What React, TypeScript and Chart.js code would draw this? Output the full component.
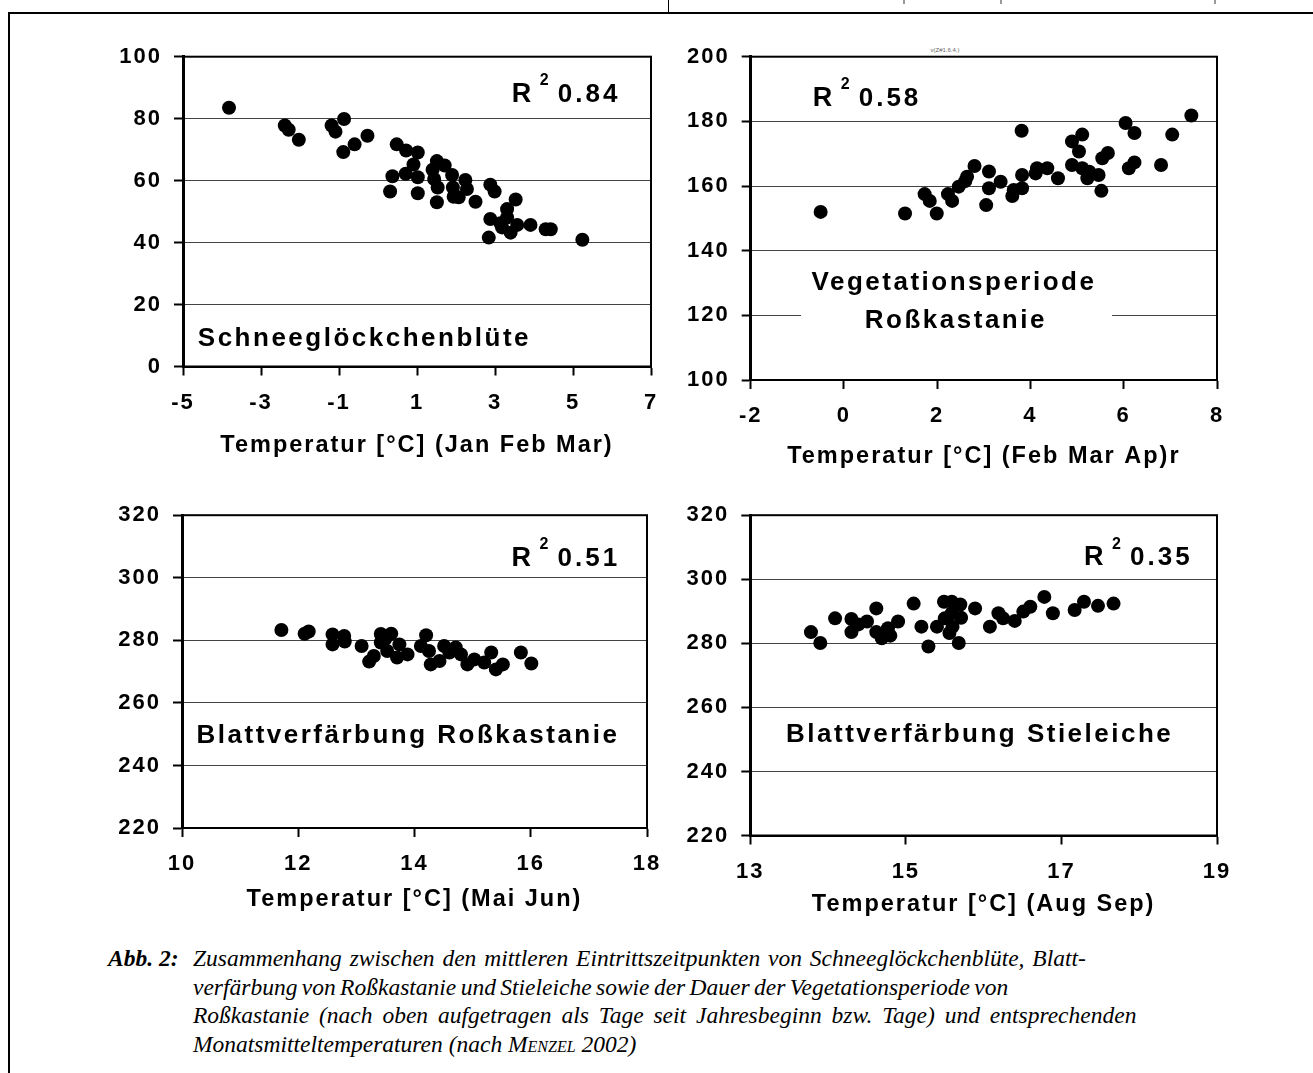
import React, { useEffect, useRef } from "react";
import { Chart, registerables } from "chart.js";

Chart.register(...registerables);

// ---------- Panel 1: Schneeglöckchenblüte ----------
const snowdropTemp = [-3.82, -2.39, -2.29, -2.03, -1.19, -0.87, -1.09, -0.89, -0.6, -0.27, 0.48, 0.72, 1.02, 0.91, 0.37, 0.31, 0.71, 1.02, 1.02, 1.51, 1.71, 1.4, 1.44, 1.53, 1.51, 1.9, 1.92, 1.94, 2.24, 2.28, 2.07, 2.5, 2.88, 2.99, 3.53, 3.31, 2.88, 3.14, 3.31, 3.57, 3.4, 2.84, 3.91, 4.3, 4.43, 5.24, 3.18];
const snowdropDay = [83.5, 77.8, 76.4, 73.2, 77.8, 79.9, 75.8, 69.2, 71.7, 74.5, 71.7, 69.7, 69.1, 65.2, 61.4, 56.5, 62.2, 61.1, 55.9, 66.3, 64.9, 63.5, 60.5, 57.8, 53.0, 61.8, 57.8, 54.8, 60.2, 57.3, 54.6, 53.2, 58.7, 56.5, 53.9, 50.8, 47.6, 46.2, 48.1, 45.7, 43.2, 41.6, 45.7, 44.3, 44.3, 40.9, 44.9];
const snowdropXTicks = [-5, -3, -1, 1, 3, 5, 7];
const snowdropYTicks = [0, 20, 40, 60, 80, 100];

// ---------- Panel 2: Vegetationsperiode Roßkastanie ----------
const vegTemp = [-0.5, 1.31, 1.73, 1.84, 1.99, 2.23, 2.32, 2.46, 2.64, 2.8, 3.05, 3.11, 3.11, 3.36, 3.61, 3.64, 3.82, 3.82, 3.81, 4.11, 4.14, 4.36, 4.59, 4.89, 5.11, 5.04, 4.89, 5.11, 5.22, 5.46, 5.52, 5.54, 5.66, 6.04, 6.23, 6.23, 6.11, 6.8, 7.04, 7.45, 5.26, 2.6];
const vegDays = [152.0, 151.5, 157.5, 155.4, 151.5, 157.5, 155.4, 159.8, 162.9, 166.2, 154.1, 159.3, 164.5, 161.3, 156.9, 158.8, 159.3, 163.4, 177.1, 163.9, 165.5, 165.5, 162.4, 173.8, 175.9, 170.7, 166.5, 165.5, 162.4, 163.4, 158.5, 168.6, 170.2, 179.5, 176.4, 167.3, 165.5, 166.5, 175.9, 181.8, 164.4, 161.5];
const vegXTicks = [-2, 0, 2, 4, 6, 8];
const vegYTicks = [100, 120, 140, 160, 180, 200];

// ---------- Panel 3: Blattverfärbung Roßkastanie ----------
const chestnutTemp = [11.71, 12.11, 12.18, 12.59, 12.59, 12.79, 12.8, 13.09, 13.22, 13.3, 13.42, 13.42, 13.6, 13.53, 13.7, 13.74, 13.88, 14.11, 14.2, 14.28, 14.43, 14.51, 14.6, 14.71, 14.8, 14.91, 15.03, 15.2, 15.32, 15.4, 15.52, 15.83, 16.01, 14.25, 13.5];
const chestnutDay = [283.3, 282.1, 282.8, 281.9, 278.7, 281.4, 279.6, 278.2, 273.2, 275.0, 282.0, 279.3, 282.1, 276.6, 274.5, 278.7, 275.5, 278.2, 281.6, 272.3, 273.4, 278.2, 276.1, 277.7, 275.5, 272.3, 273.9, 272.9, 276.1, 270.7, 272.3, 276.1, 272.6, 276.6, 280.5];
const chestnutXTicks = [10, 12, 14, 16, 18];
const chestnutYTicks = [220, 240, 260, 280, 300, 320];

// ---------- Panel 4: Blattverfärbung Stieleiche ----------
const oakTemp = [13.78, 13.9, 14.09, 14.3, 14.3, 14.39, 14.5, 14.62, 14.62, 14.69, 14.8, 14.9, 14.77, 15.1, 15.2, 15.29, 15.4, 15.49, 15.59, 15.7, 15.5, 15.59, 15.6, 15.71, 15.56, 15.68, 15.89, 16.08, 16.19, 16.25, 16.4, 16.51, 16.6, 16.78, 16.89, 17.17, 17.29, 17.47, 17.67];
const oakDay = [283.5, 280.1, 287.8, 287.6, 283.5, 285.9, 286.8, 290.9, 283.5, 281.6, 282.4, 286.8, 284.7, 292.4, 285.2, 279.0, 285.2, 293.0, 293.0, 292.1, 287.8, 289.4, 285.2, 288.0, 283.2, 280.1, 290.9, 285.2, 289.4, 287.8, 287.0, 289.9, 291.4, 294.5, 289.4, 290.4, 293.0, 291.7, 292.4];
const oakXTicks = [13, 15, 17, 19];
const oakYTicks = [220, 240, 260, 280, 300, 320];

const FONT = '"Liberation Sans", Arial, sans-serif';

type Label = { text: string; x: number; y: number; align: CanvasTextAlign };
type Panel = {
  xs: number[];
  ys: number[];
  xTicks: number[];
  yTicks: number[];
  xTitle: string;
  r2: string;
  r2At: [number, number];
  labels: Label[];
  whiteBox?: [number, number, number, number];
  box: { left: number; top: number; width: number; height: number };
  area: { left: number; top: number; right: number; bottom: number };
};

const panels: Panel[] = [
  {
    xs: snowdropTemp, ys: snowdropDay, xTicks: snowdropXTicks, yTicks: snowdropYTicks,
    xTitle: "Temperatur [°C] (Jan Feb Mar)",
    r2: "0.84", r2At: [3.43, 85.5],
    labels: [{ text: "Schneeglöckchenblüte", x: -4.62, y: 6.6, align: "left" }],
    box: { left: 90, top: 30, width: 590, height: 430 },
    area: { left: 183, top: 56.7, right: 651, bottom: 366.5 },
  },
  {
    xs: vegTemp, ys: vegDays, xTicks: vegXTicks, yTicks: vegYTicks,
    xTitle: "Temperatur [°C] (Feb Mar Ap)r",
    r2: "0.58", r2At: [-0.67, 184.8],
    labels: [
      { text: "Vegetationsperiode", x: 2.36, y: 127.8, align: "center" },
      { text: "Roßkastanie", x: 2.4, y: 116.0, align: "center" },
    ],
    whiteBox: [-0.92, 138.6, 5.75, 110.8],
    box: { left: 665, top: 30, width: 580, height: 441 },
    area: { left: 750.7, top: 56.7, right: 1217, bottom: 380 },
  },
  {
    xs: chestnutTemp, ys: chestnutDay, xTicks: chestnutXTicks, yTicks: chestnutYTicks,
    xTitle: "Temperatur [°C] (Mai Jun)",
    r2: "0.51", r2At: [15.67, 303.8],
    labels: [{ text: "Blattverfärbung Roßkastanie", x: 10.25, y: 247.3, align: "left" }],
    box: { left: 90, top: 490, width: 590, height: 424 },
    area: { left: 182, top: 514, right: 647, bottom: 828 },
  },
  {
    xs: oakTemp, ys: oakDay, xTicks: oakXTicks, yTicks: oakYTicks,
    xTitle: "Temperatur [°C] (Aug Sep)",
    r2: "0.35", r2At: [17.29, 304.3],
    labels: [{ text: "Blattverfärbung Stieleiche", x: 13.46, y: 249.1, align: "left" }],
    box: { left: 665, top: 490, width: 580, height: 429 },
    area: { left: 750.3, top: 512.7, right: 1217, bottom: 835.5 },
  },
];

function PanelChart({ p }: { p: Panel }) {
  const ref = useRef<HTMLCanvasElement | null>(null);
  useEffect(() => {
    if (!ref.current) return;
    const decor = {
      id: "decor",
      beforeDraw(chart: any) {
        chart.ctx.letterSpacing = "2px";
      },
      beforeDatasetsDraw(chart: any) {
        const { ctx, chartArea, scales } = chart;
        ctx.save();
        if (p.whiteBox) {
          const [x0, y0, x1, y1] = p.whiteBox;
          const px0 = scales.x.getPixelForValue(x0);
          const px1 = scales.x.getPixelForValue(x1);
          const py0 = scales.y.getPixelForValue(y0);
          const py1 = scales.y.getPixelForValue(y1);
          ctx.fillStyle = "#fff";
          ctx.fillRect(px0, py0, px1 - px0, py1 - py0);
        }
        ctx.strokeStyle = "#000";
        ctx.lineWidth = 2;
        ctx.strokeRect(chartArea.left, chartArea.top, chartArea.right - chartArea.left, chartArea.bottom - chartArea.top);
        ctx.restore();
      },
      afterDatasetsDraw(chart: any) {
        const { ctx, scales } = chart;
        ctx.save();
        ctx.fillStyle = "#000";
        ctx.textBaseline = "alphabetic";
        ctx.letterSpacing = "2.5px";
        ctx.font = `bold 26px ${FONT}`;
        for (const l of p.labels) {
          ctx.textAlign = l.align;
          ctx.fillText(l.text, scales.x.getPixelForValue(l.x), scales.y.getPixelForValue(l.y));
        }
        const rx = scales.x.getPixelForValue(p.r2At[0]);
        const ry = scales.y.getPixelForValue(p.r2At[1]);
        ctx.textAlign = "left";
        ctx.letterSpacing = "0px";
        ctx.font = `bold 27px ${FONT}`;
        ctx.fillText("R", rx, ry);
        ctx.font = `bold 16px ${FONT}`;
        ctx.fillText("2", rx + 28, ry - 16.5);
        ctx.letterSpacing = "3px";
        ctx.font = `bold 26px ${FONT}`;
        ctx.fillText(p.r2, rx + 46, ry);
        ctx.restore();
      },
    };
    const { box, area } = p;
    const chart = new Chart(ref.current, {
      type: "scatter",
      data: {
        datasets: [
          {
            data: p.xs.map((x, i) => ({ x, y: p.ys[i] })),
            backgroundColor: "#000",
            borderColor: "#000",
            borderWidth: 0,
            pointRadius: 7,
            pointHoverRadius: 7,
          },
        ],
      },
      options: {
        responsive: false,
        animation: false,
        devicePixelRatio: 1,
        events: [],
        layout: {
          padding: {
            left: 0,
            top: area.top - box.top,
            right: box.left + box.width - area.right,
            bottom: 0,
          },
        },
        plugins: { legend: { display: false }, tooltip: { enabled: false } },
        scales: {
          x: {
            type: "linear",
            position: "bottom",
            min: p.xTicks[0],
            max: p.xTicks[p.xTicks.length - 1],
            afterBuildTicks: (s: any) => {
              s.ticks = p.xTicks.map((v) => ({ value: v }));
            },
            afterFit: (s: any) => {
              s.height = box.top + box.height - area.bottom;
            },
            grid: { display: true, drawOnChartArea: false, drawTicks: true, tickLength: 9, tickColor: "#000", tickWidth: 2 },
            border: { display: true, color: "#000", width: 2 },
            ticks: {
              color: "#000",
              font: { family: FONT, size: 22, weight: "bold" },
              padding: 14,
              maxRotation: 0,
              autoSkip: false,
              callback: (v: any) => String(v),
            },
            title: {
              display: true,
              text: p.xTitle,
              color: "#000",
              font: { family: FONT, size: 23.5, weight: "bold" },
              padding: { top: 0, bottom: 0 },
            },
          },
          y: {
            type: "linear",
            min: p.yTicks[0],
            max: p.yTicks[p.yTicks.length - 1],
            afterBuildTicks: (s: any) => {
              s.ticks = p.yTicks.map((v) => ({ value: v }));
            },
            afterFit: (s: any) => {
              s.width = area.left - box.left;
            },
            grid: { display: true, color: "#444", lineWidth: 1, drawTicks: true, tickLength: 9, tickColor: "#000", tickWidth: 2 },
            border: { display: true, color: "#000", width: 3 },
            ticks: {
              color: "#000",
              font: { family: FONT, size: 22, weight: "bold" },
              padding: 12,
              autoSkip: false,
              callback: (v: any) => String(v),
            },
          },
        },
      },
      plugins: [decor],
    } as any);
    return () => chart.destroy();
  }, [p]);
  return (
    <canvas
      ref={ref}
      width={p.box.width}
      height={p.box.height}
      style={{ position: "absolute", left: p.box.left, top: p.box.top, width: p.box.width, height: p.box.height }}
    />
  );
}

const captionStyle: React.CSSProperties = {
  position: "absolute",
  top: 944,
  fontFamily: '"Liberation Serif", "Times New Roman", serif',
  fontStyle: "italic",
  fontSize: 23.5,
  lineHeight: "28.5px",
  whiteSpace: "nowrap",
  color: "#000",
};

export default function App() {
  return (
    <div style={{ position: "absolute", left: 0, top: 0, width: 1313, height: 1073, overflow: "hidden", background: "#fff" }}>
      {/* outer frame */}
      <div style={{ position: "absolute", left: 9, top: 12, width: 1304, height: 2, background: "#000" }} />
      <div style={{ position: "absolute", left: 8, top: 12, width: 2, height: 1061, background: "#000" }} />
      <div style={{ position: "absolute", left: 668, top: 0, width: 1, height: 13, background: "#000" }} />
      <div style={{ position: "absolute", left: 903, top: 0, width: 2, height: 4, background: "#999" }} />
      <div style={{ position: "absolute", left: 1000, top: 0, width: 2, height: 4, background: "#999" }} />
      <div style={{ position: "absolute", left: 1214, top: 0, width: 2, height: 4, background: "#999" }} />
      <div style={{ position: "absolute", left: 925, top: 47, width: 40, textAlign: "center", fontFamily: FONT, fontSize: 6, color: "#666", lineHeight: "7px" }}>v(Z#1.6.4.)</div>
      {panels.map((p, i) => (
        <PanelChart key={i} p={p} />
      ))}
      <div style={{ ...captionStyle, left: 108, fontWeight: "bold" }}>Abb. 2:</div>
      <div style={{ ...captionStyle, left: 193 }}>
        <div style={{ wordSpacing: "2px" }}>Zusammenhang zwischen den mittleren Eintrittszeitpunkten von Schneeglöckchenblüte, Blatt-</div>
        <div style={{ wordSpacing: "-1.5px" }}>verfärbung von Roßkastanie und Stieleiche sowie der Dauer der Vegetationsperiode von</div>
        <div style={{ wordSpacing: "4px" }}>Roßkastanie (nach oben aufgetragen als Tage seit Jahresbeginn bzw. Tage) und entsprechenden</div>
        <div>
          Monatsmitteltemperaturen (nach <span style={{ fontVariant: "small-caps" }}>Menzel</span> 2002)
        </div>
      </div>
    </div>
  );
}
